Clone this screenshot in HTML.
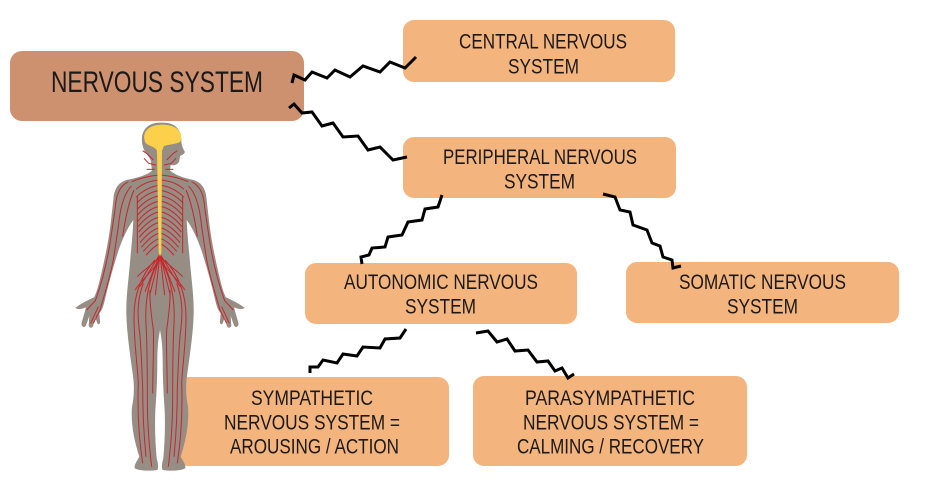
<!DOCTYPE html>
<html>
<head>
<meta charset="utf-8">
<style>
html,body{margin:0;padding:0;background:#ffffff;}
svg{display:block;}
text{font-family:"Liberation Sans",sans-serif;fill:#1c1a18;}
</style>
</head>
<body>
<svg width="934" height="494" viewBox="0 0 934 494" xmlns="http://www.w3.org/2000/svg">
<rect x="0" y="0" width="934" height="494" fill="#ffffff"/>

<!-- boxes -->
<rect x="10" y="51" width="294" height="70" rx="12" fill="#cd9170"/>
<rect x="403" y="20" width="272" height="62" rx="11" fill="#f4b47e"/>
<rect x="403" y="137" width="273" height="61" rx="11" fill="#f4b47e"/>
<rect x="305" y="263" width="272" height="61" rx="11" fill="#f4b47e"/>
<rect x="626" y="262" width="273" height="61" rx="11" fill="#f4b47e"/>
<rect x="177" y="377" width="272" height="89" rx="11" fill="#f4b47e"/>
<rect x="473" y="376" width="274" height="90" rx="11" fill="#f4b47e"/>

<!-- texts -->
<text x="51" y="92" font-size="30" textLength="212" lengthAdjust="spacingAndGlyphs">NERVOUS SYSTEM</text>

<text x="459" y="48.3" font-size="21.5" textLength="168" lengthAdjust="spacingAndGlyphs">CENTRAL NERVOUS</text>
<text x="508" y="73.3" font-size="21.5" textLength="71" lengthAdjust="spacingAndGlyphs">SYSTEM</text>

<text x="443" y="164" font-size="21.5" textLength="194" lengthAdjust="spacingAndGlyphs">PERIPHERAL NERVOUS</text>
<text x="504" y="188.3" font-size="21.5" textLength="71" lengthAdjust="spacingAndGlyphs">SYSTEM</text>

<text x="344" y="289" font-size="21.5" textLength="194" lengthAdjust="spacingAndGlyphs">AUTONOMIC NERVOUS</text>
<text x="405" y="313.3" font-size="21.5" textLength="71" lengthAdjust="spacingAndGlyphs">SYSTEM</text>

<text x="679" y="289" font-size="21.5" textLength="167" lengthAdjust="spacingAndGlyphs">SOMATIC NERVOUS</text>
<text x="727" y="313.3" font-size="21.5" textLength="71" lengthAdjust="spacingAndGlyphs">SYSTEM</text>

<text x="251" y="405" font-size="21.5" textLength="122" lengthAdjust="spacingAndGlyphs">SYMPATHETIC</text>
<text x="224" y="429.3" font-size="21.5" textLength="176" lengthAdjust="spacingAndGlyphs">NERVOUS SYSTEM =</text>
<text x="230" y="453.3" font-size="21.5" textLength="169" lengthAdjust="spacingAndGlyphs">AROUSING / ACTION</text>

<text x="525" y="405" font-size="21.5" textLength="170" lengthAdjust="spacingAndGlyphs">PARASYMPATHETIC</text>
<text x="523" y="429.3" font-size="21.5" textLength="176" lengthAdjust="spacingAndGlyphs">NERVOUS SYSTEM =</text>
<text x="517" y="453.3" font-size="21.5" textLength="187" lengthAdjust="spacingAndGlyphs">CALMING / RECOVERY</text>

<!-- zigzag connectors -->
<g fill="none" stroke="#000" stroke-width="3" stroke-linejoin="miter" stroke-linecap="butt">
<polyline points="292,83 294,75 305,80 312,72 327,78 335,70 350,77 363,66 380,72 390,62 405,68 416,57"/>
<polyline points="289,108 294,104 302,113 312,112 322,126 333,123 343,137 358,136 368,150 380,147 393,160 407,157"/>
<polyline points="442,195 438,207 425,209 422,220 408,222 402,235 388,237 385,247 372,248 369,255 361,257 362,264"/>
<polyline points="603,194 615,197 620,210 630,212 633,225 647,230 652,243 660,246 663,257 672,260 673,268 681,266"/>
<polyline points="406,329 400,338 385,339 380,348 363,347 357,356 343,354 337,363 323,360 318,367 310,367 310,373"/>
<polyline points="476,333 488,331 497,342 507,339 515,351 528,350 537,362 548,361 555,371 562,368 568,378 574,374"/>
</g>

<!-- human figure -->
<g transform="translate(60,110) scale(0.33333)">
<path fill="#968d85" d="M305,38
C270,36 248,55 246,82
C244,105 252,125 266,140
L272,150 L276,182
C262,196 230,204 200,210
C172,218 162,240 160,270
L152,340
C146,390 136,440 124,490
C116,525 110,548 102,562
C85,570 62,580 46,594
C55,600 68,596 78,592
L64,642 C66,652 74,654 78,646
L88,618 L86,648 C90,656 98,654 100,646
L106,622 L112,640 C116,646 122,642 120,632
L118,610 C126,600 130,590 134,572
C146,520 160,470 176,420
C190,380 205,350 220,330
C218,380 212,430 208,480
C203,530 198,570 199,610
C200,660 208,720 218,790
C224,830 222,860 216,890
C212,940 222,990 238,1040
C232,1052 222,1064 224,1074
C230,1082 270,1084 292,1080
C296,1072 294,1058 290,1045
C286,1000 284,950 286,900
C290,850 292,800 292,750
C292,710 296,680 300,660
C304,680 308,710 308,750
C308,800 310,850 314,900
C316,950 314,1000 310,1045
C306,1058 304,1072 308,1080
C330,1084 370,1082 376,1074
C378,1064 368,1052 362,1040
C378,990 388,940 384,890
C378,860 376,830 382,790
C392,720 400,660 401,610
C402,570 397,530 392,480
C388,430 382,380 380,330
C395,350 410,380 424,420
C440,470 454,520 466,572
C470,590 474,600 482,610
L480,632 C478,642 484,646 488,640
L494,622 L500,646 C502,654 510,656 514,648
L512,618 L522,646 C526,654 534,652 536,642
L522,592 C532,596 545,600 554,594
C538,580 515,570 498,562
C490,548 484,525 476,490
C464,440 454,390 448,340
L440,270
C438,240 428,218 400,210
C370,204 348,196 330,182
L332,165
C345,168 356,162 358,152
L360,138 C368,134 376,130 374,124
C368,114 364,104 364,90
C364,55 340,36 305,38 Z"/>

<!-- red nerves, left half -->
<g id="nl" fill="none" stroke="#c8262b" stroke-width="3">
<path d="M296,195 Q250,200 215,215"/>
<path d="M296,210 Q255,214 228,238"/>
<path d="M296,226 Q258,232 228,262"/>
<path d="M296,242 Q260,248 230,280"/>
<path d="M296,258 Q262,264 232,298"/>
<path d="M296,274 Q262,280 232,316"/>
<path d="M296,290 Q264,296 233,334"/>
<path d="M296,306 Q266,312 234,350"/>
<path d="M296,322 Q268,328 236,366"/>
<path d="M296,338 Q270,344 238,382"/>
<path d="M296,354 Q272,360 240,398"/>
<path d="M296,370 Q274,376 244,412"/>
<path d="M297,386 Q278,392 250,424"/>
<path d="M298,402 Q282,408 258,436"/>
<path d="M232,260 L232,430"/>
<path d="M205,215 C175,230 168,260 165,300 L150,400 C140,460 125,520 106,572 L80,600"/>
<path d="M215,228 C190,250 180,300 175,350 L160,450 C150,500 135,550 120,600 L100,640"/>
<path d="M222,240 C205,280 195,330 188,380"/>
<path d="M115,590 L92,640"/>
<path d="M300,432 L240,530"/>
<path d="M300,432 L255,545"/>
<path d="M300,432 L270,552"/>
<path d="M300,432 L286,556"/>
<path d="M300,440 C270,470 250,480 232,500"/>
<path d="M300,450 C270,490 245,510 225,540"/>
<path d="M285,450 C240,500 222,560 222,620 C222,700 232,760 235,820 C232,900 236,980 248,1060"/>
<path d="M292,460 C262,520 255,580 258,640 C262,720 262,800 262,860 C262,950 268,1010 275,1070"/>
<path d="M250,520 C235,560 230,600 238,660 C245,720 245,780 248,830 C248,900 250,960 258,1040"/>
<path d="M270,540 C268,580 275,620 280,660 C282,720 278,780 278,850"/>
<path d="M320,150 L340,130 L352,122"/>
<path d="M312,165 L334,160 L348,145"/>
<path d="M316,178 L340,178"/>
</g>
<use href="#nl" transform="translate(600,0) scale(-1,1)"/>

<!-- brain and spinal cord -->
<path fill="#fcd04a" d="M256,98 C242,62 272,44 306,44 C346,44 370,62 362,94 C354,102 330,102 312,108 L306,122 L304,428 L300,440 L296,428 L291,122 C284,108 266,110 256,98 Z"/>
</g>
</svg>
</body>
</html>
